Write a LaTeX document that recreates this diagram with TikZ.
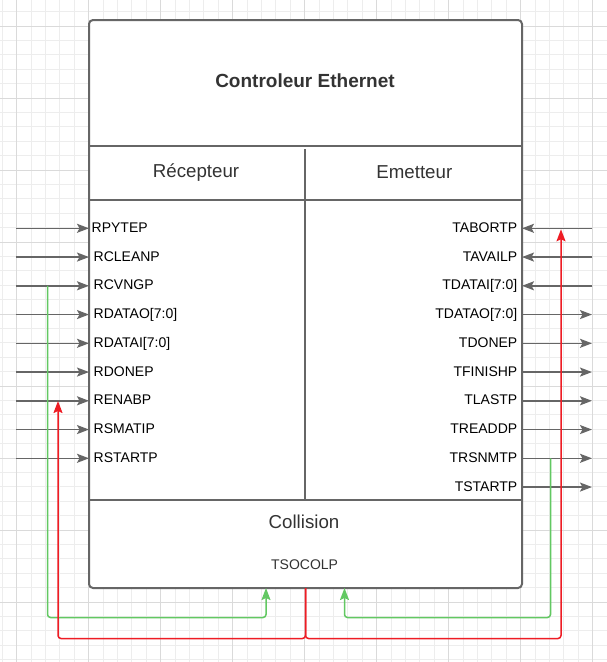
\documentclass[tikz,border=0pt]{standalone}
\usepackage{fontspec}
\setmainfont{Liberation Sans}
\usetikzlibrary{arrows.meta}
\definecolor{lin}{HTML}{666666}
\definecolor{txt}{HTML}{333333}
\definecolor{gmin}{HTML}{EDEDED}
\definecolor{gmaj}{HTML}{DADADA}
\definecolor{rd}{HTML}{EE1C24}
\definecolor{gr}{HTML}{62C862}
\begin{document}
\begin{tikzpicture}[x=1pt,y=-1pt,
  boxline/.style={draw=lin,line width=2pt},
  sig/.style={draw=lin,line width=1.6pt,-{Stealth[length=12pt,width=9pt,inset=2.5pt]}},
  gline/.style={draw=gr,line width=1.5pt,rounded corners=3pt,-{Stealth[length=12pt,width=9pt,inset=2pt]}},
  rline/.style={draw=rd,line width=1.5pt,rounded corners=3pt,-{Stealth[length=12pt,width=9pt,inset=2pt]}},
  lab/.style={font=\fontsize{14}{16}\selectfont,inner sep=0pt,text=black},
  head/.style={font=\fontsize{18.7}{22}\selectfont,inner sep=0pt,text=txt,anchor=base}
]
\useasboundingbox (0,0) rectangle (607,662);
\fill[white] (0,0) rectangle (607,662);
% grid
\foreach \i in {0,...,42} \draw[gmin,line width=1pt] ({2.3+14.4*\i},0) -- ++(0,662);
\foreach \i in {0,...,45} \draw[gmin,line width=1pt] (0,{11.7+14.4*\i}) -- ++(607,0);
\foreach \i in {0,...,8} \draw[gmaj,line width=1pt] ({16.7+72*\i},0) -- ++(0,662);
\foreach \i in {0,...,8} \draw[gmaj,line width=1pt] (0,{26+72*\i}) -- ++(607,0);
% main box
\node[boxline,fill=white,rounded corners=4pt,minimum width=433pt,minimum height=568pt,inner sep=0pt,outer sep=0pt] (box) at (305.5,304) {};
\coordinate (s1) at (89,146); \coordinate (s2) at (89,200); \coordinate (s3) at (89,500);
\draw[boxline] (s1) -- (s1 -| box.east);
\draw[boxline] (s2) -- (s2 -| box.east);
\draw[boxline] (s3) -- (s3 -| box.east);
\coordinate (d1) at (305,149);
\draw[boxline] (d1) -- (d1 |- s3);
% titles
\node[head,font=\bfseries\fontsize{19}{22}\selectfont] (title) at (305,87.3) {Controleur Ethernet};
\node[head] (rec) at (196,177.7) {Récepteur};
\node[head] (emt) at (414.3,178) {Emetteur};
\node[head] (col) at (304,528.3) {Collision};
\node[lab,anchor=base,text=txt] (tsocolp) at (304.6,569.3) {TSOCOLP};
% left signals
\foreach \t/\xx [count=\i from 0] in {RPYTEP/91.5,RCLEANP/93.5,RCVNGP/93.5,RDATAO[7:0]/93.5,RDATAI[7:0]/93.5,RDONEP/93.5,RENABP/93.5,RSMATIP/93.5,RSTARTP/93.5}{
  \node[lab,anchor=base west] (L\i) at (\xx,{232.3+28.75*\i}) {\t};
  \coordinate (la\i) at (16,{228.3+28.75*\i});
  \draw[sig] (la\i) -- (la\i -| box.west);
}
% right signals
\foreach \t [count=\i from 0] in {TABORTP,TAVAILP,TDATAI[7:0],TDATAO[7:0],TDONEP,TFINISHP,TLASTP,TREADDP,TRSNMTP,TSTARTP}{
  \node[lab,anchor=base east] (R\i) at (517.5,{232.3+28.75*\i}) {\t};
  \coordinate (ra\i) at (592,{228.3+28.75*\i});
}
\foreach \i in {0,1,2} \draw[sig] (ra\i) -- (ra\i -| box.east);
\foreach \i in {3,...,9} \draw[sig] (ra\i -| box.east) -- (ra\i);
% colored connectors
\coordinate (gs1) at (47.5,285.8);
\coordinate (ge1) at (266,588);
\draw[gline] (gs1) -- (47.5,617.5) -- (266,617.5) -- (ge1);
\coordinate (gs2) at (550.5,458.3);
\coordinate (ge2) at (344.5,588);
\draw[gline] (gs2) -- (550.5,617.5) -- (344.5,617.5) -- (ge2);
\coordinate (re1) at (58,401);
\coordinate (re2) at (561,229.3);
\draw[rline] (box.south) -- (305.5,638.5) -- (58,638.5) -- (re1);
\draw[rline] (box.south) -- (305.5,638.5) -- (561,638.5) -- (re2);
\end{tikzpicture}
\end{document}
